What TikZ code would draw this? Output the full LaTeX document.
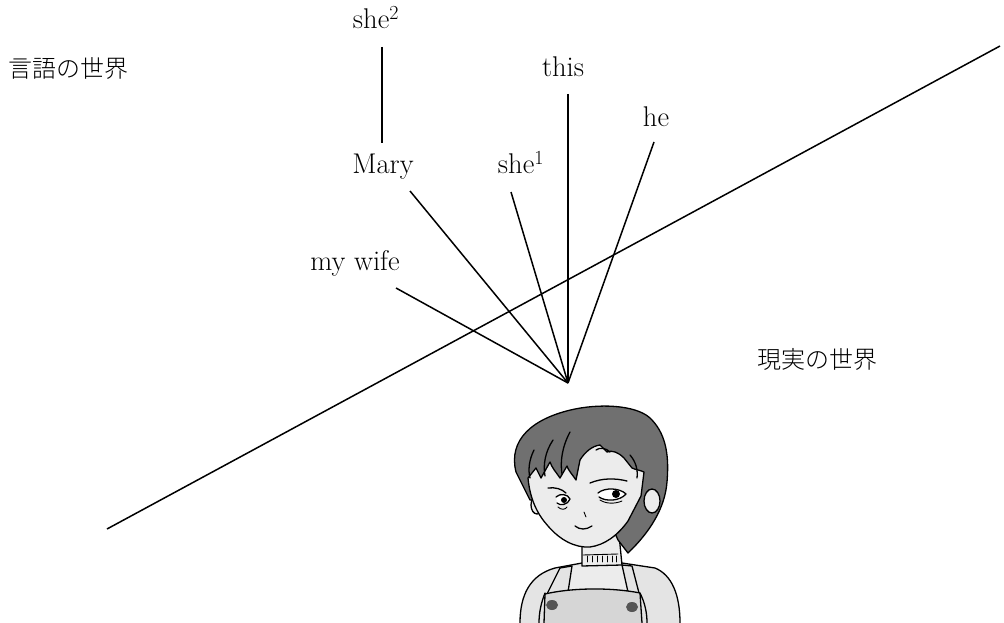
\documentclass[tikz,border=0pt]{standalone}
\usepackage{fontspec}
\newfontfamily\jp{Noto Sans CJK JP Light}
\definecolor{hair}{RGB}{112,112,112}
\definecolor{skin}{RGB}{236,236,236}
\definecolor{cloth}{RGB}{228,228,228}
\definecolor{bib}{RGB}{214,214,214}
\definecolor{btn}{RGB}{85,85,85}
\tikzset{
  word/.style={inner sep=0pt, anchor=base, font=\fontsize{28.5}{32}\selectfont},
  jword/.style={inner sep=0pt, anchor=west, font=\jp\fontsize{24}{28}\selectfont},
  link/.style={line width=1.5pt},
  ink/.style={line width=1.3pt, line join=round, line cap=round},
  fine/.style={line width=0.9pt, line cap=round}
}
\begin{document}
\begin{tikzpicture}[x=1pt,y=-1pt]
\useasboundingbox (0,0) rectangle (1004,623);
% ---------- labels ----------
\node[jword] (lang) at (8,68) {言語の世界};
\node[jword] (real) at (757,359) {現実の世界};
\node[word] (she2) at (376,29) {she\textsuperscript{2}};
\node[word] (this) at (563,77) {this};
\node[word] (he) at (656,127) {he};
\node[word] (mary) at (383,174) {Mary};
\node[word] (she1) at (521,174) {she\textsuperscript{1}};
\node[word] (wife) at (355,270) {my wife};
% ---------- connector ends ----------
\coordinate (apex) at (568,383);
\coordinate (s2e) at (382,47);
\coordinate (mte) at (382,143);
\coordinate (the) at (568,94);
\coordinate (hee) at (654,142);
\coordinate (mye) at (410,191);
\coordinate (s1e) at (511,192);
\coordinate (wfe) at (396,288);
\coordinate (bl) at (107,529);
\coordinate (br) at (1000,46);
\draw[link] (s2e) -- (mte);
\draw[link] (the) -- (apex);
\draw[link] (hee) -- (apex);
\draw[link] (mye) -- (apex);
\draw[link] (s1e) -- (apex);
\draw[link] (wfe) -- (apex);
\draw[link] (bl) -- (br);
% ---------- girl ----------
% body
\draw[ink, fill=cloth] (520,623) .. controls (520,595) and (530,575) .. (555,568)
  -- (582,563) -- (622,563) -- (655,568) .. controls (672,575) and (680,595) .. (680,623);
% shirt between straps
\fill[skin] (572,566) -- (622,565) -- (628,591) -- (568,591) -- cycle;
% straps
\draw[ink, fill=cloth] (560,568) -- (572,566) -- (568,592) -- (547,594) -- cycle;
\draw[ink, fill=cloth] (622,565) -- (632,566) -- (639,593) -- (628,592) -- cycle;
% bib
\draw[ink, fill=bib] (544,623) -- (545,594) .. controls (570,588) and (610,587) .. (640,593) -- (642,623);
\fill[btn] (552,605) ellipse (6 and 5);
\fill[btn] (632,607) ellipse (6 and 5);
% arm lines
\draw[ink] (545,593) .. controls (541,603) and (539,613) .. (539,623);
\draw[ink] (640,593) .. controls (645,603) and (647,613) .. (647,623);
% neck
\draw[ink, fill=skin] (582,540) -- (582,566) -- (622,565) -- (619,535);
\draw[fine] (583,555) -- (618,554);
\foreach \xx in {587,592,597,602,607,612,616} \draw[fine] (\xx,556) -- (\xx,562);
% hair mass
\draw[ink, fill=hair] (516,472) .. controls (508,440) and (532,418) .. (575,409)
  .. controls (605,403) and (640,406) .. (652,420)
  .. controls (667,436) and (669,458) .. (667,482)
  .. controls (665,508) and (650,532) .. (628,553)
  -- (618,540) -- (600,500) -- (530,500) -- cycle;
% ears
\draw[ink, fill=skin] (652,501) ellipse (8 and 12);
\draw[ink, fill=skin] (537,505) ellipse (6 and 9);
% face
\draw[ink, fill=skin] (528,478) .. controls (530,500) and (538,515) .. (548,526)
  .. controls (560,540) and (575,548) .. (590,547)
  .. controls (605,545) and (618,535) .. (628,521)
  -- (641,496) -- (644,472)
  .. controls (640,470) and (636,470) .. (632,468)
  -- (624,458) .. controls (618,452) and (612,450) .. (607,452)
  -- (600,445) .. controls (592,446) and (585,452) .. (580,460)
  -- (576,480) .. controls (572,474) and (568,470) .. (567,466)
  -- (560,478) .. controls (556,472) and (552,468) .. (550,462)
  -- (541,478) -- (536,468) -- cycle;
% hair strands
\draw[ink] (553,440) .. controls (545,452) and (543,465) .. (545,476);
\draw[ink] (570,432) .. controls (562,447) and (560,462) .. (562,474);
\draw[ink] (534,450) .. controls (529,460) and (528,470) .. (530,478);
\draw[ink] (630,455) .. controls (636,462) and (638,470) .. (637,478);
\draw[ink] (596,450) .. controls (600,447) and (606,448) .. (610,452);
% brows
\draw[ink] (548,488) .. controls (555,487) and (562,489) .. (566,493);
\draw[ink] (590,483) .. controls (602,478) and (615,478) .. (627,481);
% eyes
\draw[ink, fill=white] (556,497) .. controls (560,493) and (568,494) .. (570,499)
  .. controls (568,505) and (560,506) .. (557,503);
\fill (564,500) circle (3);
\draw[ink, fill=white] (598,493) .. controls (605,487) and (620,488) .. (626,494)
  .. controls (620,501) and (606,502) .. (599,497);
\fill (616,494) circle (4);
\draw[fine] (558,507) .. controls (561,510) and (565,510) .. (567,507);
\draw[fine] (600,500) .. controls (606,504) and (615,504) .. (622,501);
% nose and mouth
\draw[fine] (584,512) -- (586,517);
\draw[ink] (575,526) .. controls (580,530) and (586,530) .. (592,526);
\end{tikzpicture}
\end{document}
